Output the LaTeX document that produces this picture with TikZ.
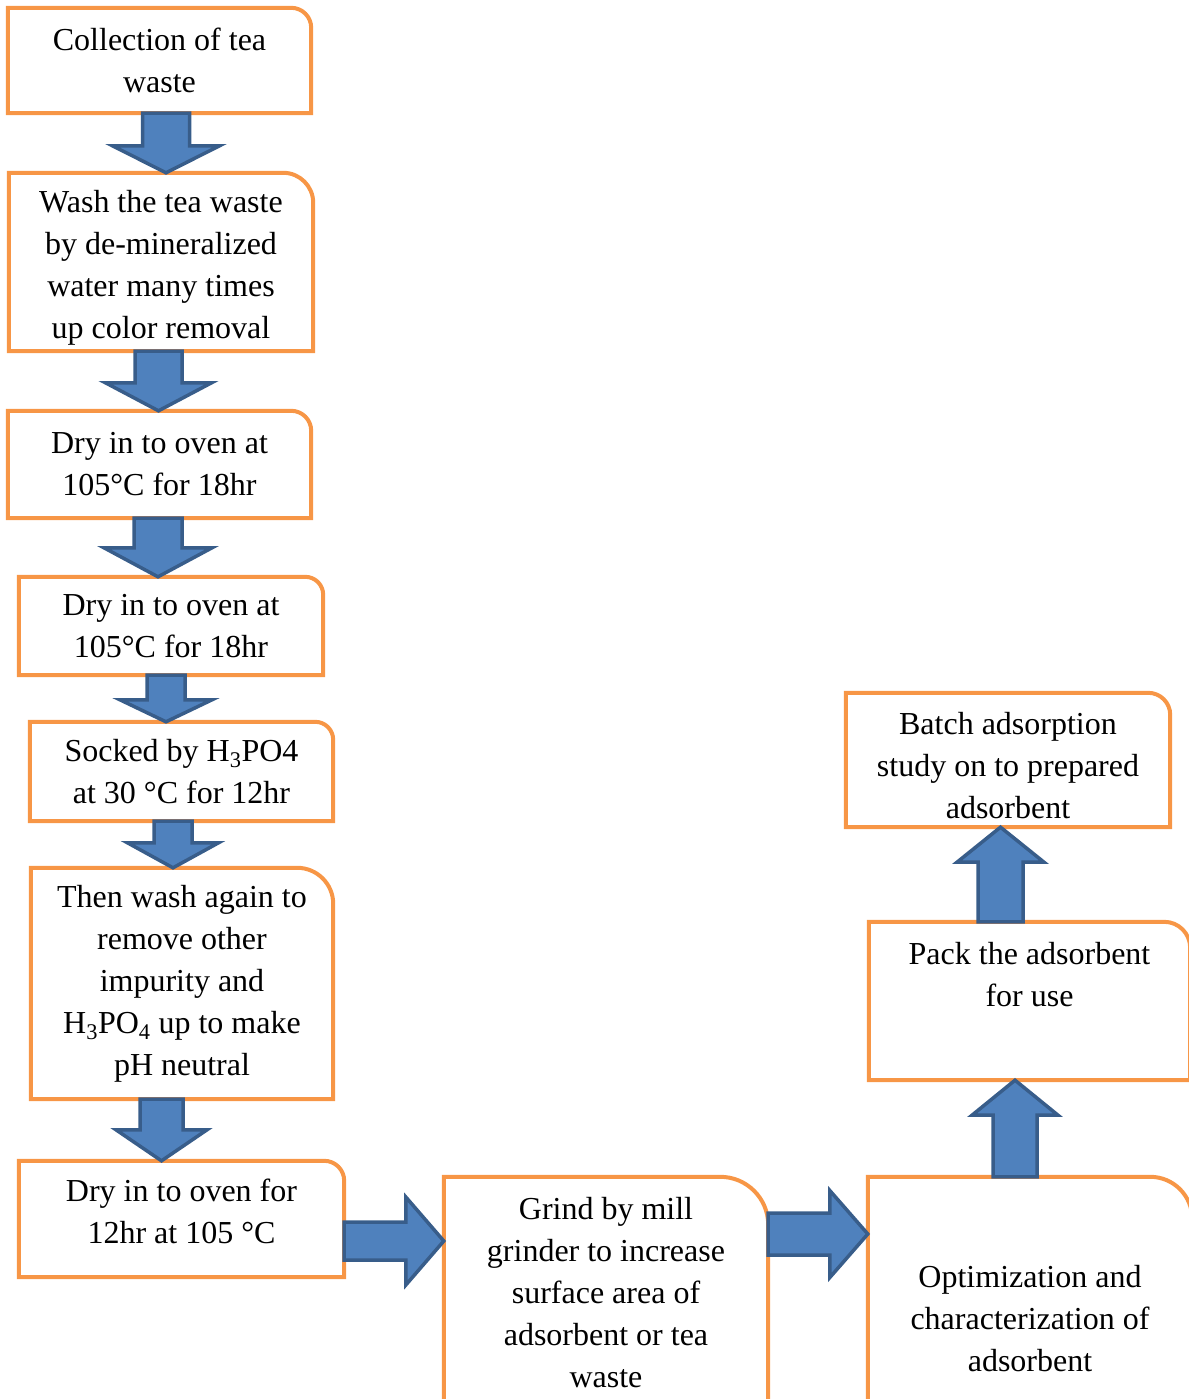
\documentclass[tikz,border=0pt]{standalone}
\usepackage{fontspec}
\setmainfont{Liberation Serif}
\usetikzlibrary{calc}
\definecolor{boxorange}{HTML}{F79646}
\definecolor{arrowblue}{HTML}{4F81BD}
\definecolor{arrowedge}{HTML}{385D8A}

% block arrow: tail, tip, shaft half width, head half width, head length
\newcommand{\blockarrow}[5]{%
	\coordinate (bat) at #1;
	\coordinate (bap) at #2;
	\coordinate (bab) at ($(bap)!#5!(bat)$);
	\draw[blockarrow] ($(bat)!#3!90:(bap)$) -- ($(bab)!#3!90:(bap)$) -- ($(bab)!#4!90:(bap)$) -- (bap)
		-- ($(bab)!#4!-90:(bap)$) -- ($(bab)!#3!-90:(bap)$) -- ($(bat)!#3!-90:(bap)$) -- cycle;
}

\begin{document}
\begin{tikzpicture}[x=1pt,y=-1pt]
	\useasboundingbox (0,0) rectangle (1188,1399);
	\tikzstyle{procbox} = [inner sep=0pt, align=center, font=\fontsize{32}{42}\selectfont]
	\tikzstyle{boxline} = [draw=boxorange, line width=4pt]
	\tikzstyle{blockarrow} = [fill=arrowblue, draw=arrowedge, line width=3.5pt]
	% left column
	\node[procbox, minimum width=303pt, minimum height=105pt] (collect) at (159.5,60.5) {Collection of tea\\waste};
	\node[procbox, minimum width=304pt, minimum height=178pt, text height=160pt] (wash) at (161,262) {Wash the tea waste\\by de-mineralized\\water many times\\up color removal};
	\node[procbox, minimum width=303pt, minimum height=107pt] (dryone) at (159.5,464.5) {Dry in to oven at\\105°C for 18hr};
	\node[procbox, minimum width=304pt, minimum height=98pt] (drytwo) at (171,626) {Dry in to oven at\\105°C for 18hr};
	\node[procbox, minimum width=303pt, minimum height=99pt] (socked) at (181.5,771.5) {Socked by H\textsubscript{3}PO4\\at 30 °C for 12hr};
	\node[procbox, minimum width=302pt, minimum height=231pt] (rinse) at (182,983.5) {Then wash again to\\remove other\\impurity and\\H\textsubscript{3}PO\textsubscript{4} up to make\\pH neutral};
	\node[procbox, minimum width=325pt, minimum height=116pt, text depth=16pt] (drythree) at (181.5,1219) {Dry in to oven for\\12hr at 105 °C};
	% bottom row and right column
	\node[procbox, minimum width=324pt, minimum height=232pt] (grind) at (606,1293) {Grind by mill\\grinder to increase\\surface area of\\adsorbent or tea\\waste};
	\node[procbox, minimum width=324pt, minimum height=284pt] (optim) at (1030,1319) {Optimization and\\characterization of\\adsorbent};
	\node[procbox, minimum width=321pt, minimum height=158pt, text depth=54pt] (pack) at (1029.5,1001) {Pack the adsorbent\\for use};
	\node[procbox, minimum width=324pt, minimum height=134pt, text height=118pt] (batch) at (1008,760) {Batch adsorption\\study on to prepared\\adsorbent};
	% outlines, one rounded corner
	\foreach \n/\rad in {collect/20pt,wash/30pt,dryone/20pt,drytwo/18pt,socked/18pt,rinse/36pt,drythree/20pt,grind/48pt,optim/42pt,pack/26pt,batch/22pt}
		\draw[boxline] (\n.south west) -- (\n.north west) -- ([xshift=-\rad]\n.north east) arc[start angle=90, end angle=0, radius=\rad] -- (\n.south east) -- cycle;
	% block arrows
	\blockarrow{([xshift=6.5pt]collect.south)}{([xshift=5pt]wash.north)}{23.5pt}{53.5pt}{27pt}
	\blockarrow{([xshift=-2.5pt]wash.south)}{([xshift=-1pt]dryone.north)}{23.5pt}{53pt}{28pt}
	\blockarrow{([xshift=-1.5pt]dryone.south)}{([xshift=-13pt]drytwo.north)}{24pt}{54pt}{29pt}
	\blockarrow{([xshift=-5pt]drytwo.south)}{([xshift=-15.5pt]socked.north)}{19pt}{46pt}{22pt}
	\blockarrow{([xshift=-8.5pt]socked.south)}{([xshift=-9pt]rinse.north)}{19pt}{45.5pt}{25pt}
	\blockarrow{([xshift=-20.5pt]rinse.south)}{([xshift=-20pt]drythree.north)}{21.5pt}{45.5pt}{31pt}
	\blockarrow{([yshift=-22pt]drythree.east)}{([yshift=52pt]grind.west)}{19pt}{44pt}{38pt}
	\blockarrow{([yshift=59pt]grind.east)}{([yshift=85pt]optim.west)}{21pt}{43.5pt}{38pt}
	\blockarrow{([xshift=-15pt]optim.north)}{([xshift=-14.5pt]pack.south)}{22pt}{43pt}{35pt}
	\blockarrow{([xshift=-29pt]pack.north)}{([xshift=-7.5pt]batch.south)}{22.5pt}{43.5pt}{35pt}
\end{tikzpicture}
\end{document}
